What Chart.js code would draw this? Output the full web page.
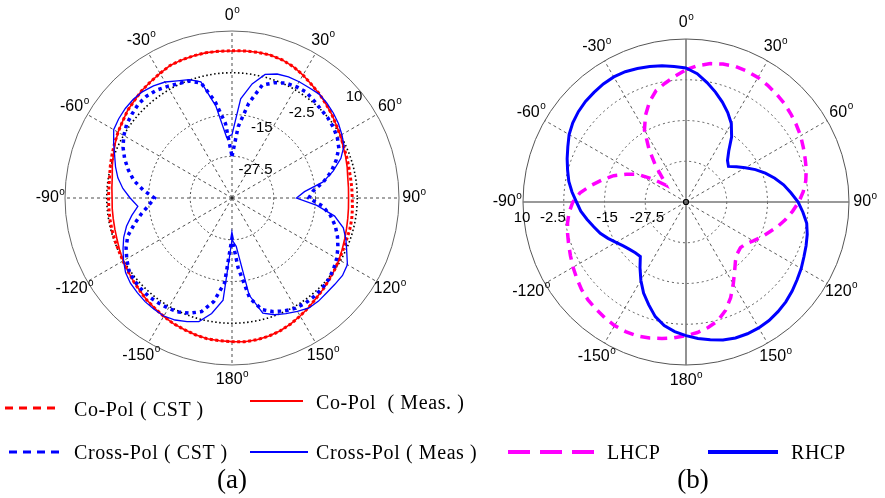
<!DOCTYPE html>
<html>
<head>
<meta charset="utf-8">
<script src="https://cdn.jsdelivr.net/npm/chart.js@4.4.1/dist/chart.umd.min.js"></script>
<style>
  html, body { margin: 0; padding: 0; background: #fff; }
  body { width: 885px; height: 498px; position: relative; overflow: hidden;
         font-family: "Liberation Serif", "Times New Roman", serif; color: #000; }
  canvas { position: absolute; }
  .lg { position: absolute; font-size: 20px; letter-spacing: 0.6px; line-height: 1; white-space: pre; transform: translateY(-50%); }
  .cap { position: absolute; font-size: 27px; line-height: 1; transform: translate(-50%, -50%); }
  #keys { position: absolute; left: 0; top: 0; }
</style>
</head>
<body>
<canvas id="chartA" width="440" height="395" style="left:0;top:0"></canvas>
<canvas id="chartB" width="399" height="395" style="left:486px;top:0"></canvas>

<svg id="keys" width="885" height="498">
  <line x1="5" y1="408" x2="57" y2="408" stroke="#ff0000" stroke-width="3" stroke-dasharray="8 6"/>
  <line x1="250" y1="401" x2="303" y2="401" stroke="#ff0000" stroke-width="2"/>
  <line x1="9" y1="452" x2="61" y2="452" stroke="#0000ff" stroke-width="3" stroke-dasharray="8 6"/>
  <line x1="250" y1="452" x2="308" y2="452" stroke="#0000ff" stroke-width="2"/>
  <line x1="508" y1="452" x2="594" y2="452" stroke="#ff00ff" stroke-width="4" stroke-dasharray="22 10"/>
  <line x1="708" y1="452" x2="778" y2="452" stroke="#0000ff" stroke-width="4"/>
</svg>
<div class="lg" style="left:74px;top:409px">Co-Pol ( CST )</div>
<div class="lg" style="left:316px;top:402px">Co-Pol  ( Meas. )</div>
<div class="lg" style="left:74px;top:452px">Cross-Pol ( CST )</div>
<div class="lg" style="left:316px;top:452px">Cross-Pol ( Meas )</div>
<div class="lg" style="left:607px;top:452px">LHCP</div>
<div class="lg" style="left:791px;top:452px">RHCP</div>
<div class="cap" style="left:232px;top:479px">(a)</div>
<div class="cap" style="left:693px;top:479px">(b)</div>

<script>
// ===== data (dB, one value every 5 degrees, clockwise from 0) =====
const angleCats = ['0','5','10','15','20','25','30','35','40','45','50','55','60','65','70','75','80','85',
  '90','95','100','105','110','115','120','125','130','135','140','145','150','155','160','165','170','175',
  '180','-175','-170','-165','-160','-155','-150','-145','-140','-135','-130','-125','-120','-115','-110','-105','-100','-95',
  '-90','-85','-80','-75','-70','-65','-60','-55','-50','-45','-40','-35','-30','-25','-20','-15','-10','-5'];

const degreeLabels = ['0','30','60','90','120','150','180','-150','-120','-90','-60','-30'];
const ringTicks = [-27.5, -15, -2.5, 10];

// (a) co-pol / cross-pol
const coPolCst = [4.1,4.2,4.3,4.3,4.0,3.4,2.5,1.5,0.7,-0.2,-1.0,-1.9,-2.5,-3.2,-3.5,-3.8,-4.0,-4.0,
  -4.0,-3.8,-3.6,-3.5,-3.5,-3.3,-3.0,-2.5,-2.0,-1.4,-0.8,0.0,0.8,1.6,2.3,2.8,3.1,3.2,
  3.0,2.9,2.8,2.4,1.9,1.5,0.9,0.3,-0.2,-0.9,-1.4,-1.9,-2.3,-2.6,-2.7,-2.8,-2.9,-3.0,
  -3.0,-3.0,-2.8,-2.3,-1.8,-1.2,-0.6,0.0,0.8,1.3,2.0,2.5,3.1,3.8,4.0,4.1,4.2,4.1];
const coPolMeas = [4.0,4.2,4.3,4.3,4.0,3.4,2.5,1.5,0.7,-0.2,-1.0,-1.9,-2.5,-3.3,-3.8,-4.3,-4.8,-5.0,
  -5.1,-5.0,-4.8,-4.5,-4.1,-3.6,-3.0,-2.5,-2.0,-1.4,-0.8,0.0,0.8,1.6,2.3,2.8,3.1,3.2,
  3.0,2.9,2.8,2.4,1.9,1.5,0.9,0.3,-0.2,-0.9,-1.4,-1.9,-2.4,-2.9,-3.4,-3.7,-3.9,-4.0,
  -4.1,-3.9,-3.6,-2.9,-2.2,-1.4,-0.6,0.0,0.8,1.3,2.0,2.5,3.1,3.8,4.0,4.1,4.2,4.1];
const crossPolCst = [-27.5,-18.5,-11.2,-5.0,-3.3,-2.0,-1.5,-1.3,-1.9,-2.4,-2.6,-3.0,-3.6,-4.7,-6.8,-9.2,-12.2,-15.6,
  -17.0,-12.8,-10.1,-8.0,-6.4,-5.0,-3.8,-2.9,-2.2,-1.8,-1.6,-1.6,-1.9,-2.7,-3.8,-5.4,-9.6,-19.0,
  -28.0,-14.5,-8.5,-4.8,-3.3,-2.3,-1.9,-1.6,-1.4,-1.5,-1.7,-2.3,-3.6,-5.0,-6.8,-9.7,-12.4,-15.0,
  -16.8,-13.4,-10.2,-7.9,-5.8,-4.0,-2.6,-1.5,-0.9,-0.3,-0.2,-0.6,-1.4,-2.2,-2.7,-4.4,-10.6,-17.6];
const crossPolMeas = [-21.0,-10.2,-5.3,-1.7,-0.5,0.0,0.2,0.3,0.6,0.2,-0.4,-1.1,-2.0,-3.0,-5.3,-8.6,-12.3,-18.2,
  -20.7,-14.5,-8.8,-5.5,-3.7,-2.1,-0.1,0.4,0.2,0.1,0.3,0.2,-0.8,-1.8,-2.8,-4.3,-10.5,-25.5,
  -27.5,-9.3,-4.9,-1.7,-0.6,0.3,0.8,0.7,0.5,0.1,-0.3,-1.1,-2.5,-4.0,-5.5,-7.3,-9.5,-11.7,
  -9.5,-7.2,-5.3,-3.9,-2.6,-0.9,0.9,1.4,1.7,1.8,1.6,1.0,0.1,-1.3,-2.3,-4.0,-12.0,-21.8];

// (b) circular polarisation
const lhcp = [0.6,2.0,3.1,3.8,4.3,4.3,4.1,3.7,3.2,2.7,2.0,1.3,0.6,-0.3,-1.1,-1.8,-2.7,-3.9,
  -5.4,-7.2,-9.0,-10.9,-12.9,-14.5,-16.2,-17.6,-18.2,-17.7,-16.4,-14.0,-11.0,-7.6,-4.6,-2.3,-0.9,0.2,
  1.0,1.8,2.5,3.2,3.7,3.85,3.8,3.4,2.9,2.5,1.8,0.9,0.0,-0.9,-1.7,-2.4,-3.1,-4.0,
  -5.3,-7.4,-10.5,-13.5,-16.4,-19.8,-23.0,-28.0,-32.0,-30.0,-25.5,-20.2,-14.5,-10.6,-7.3,-4.6,-3.0,-1.3];
const rhcp = [1.1,-0.5,-2.8,-5.1,-7.4,-9.7,-12.2,-15.6,-19.6,-22.0,-23.0,-21.1,-19.0,-16.5,-14.1,-11.8,-9.6,-7.7,
  -5.6,-4.0,-2.4,-1.5,-0.8,-0.1,0.8,1.6,2.5,3.3,3.9,4.4,4.6,4.6,4.4,3.8,2.9,2.0,
  1.0,-0.1,-1.5,-3.6,-6.5,-9.2,-12.3,-15.4,-18.2,-18.0,-17.4,-16.5,-15.2,-13.6,-12.0,-10.7,-9.2,-7.6,
  -6.4,-4.9,-3.5,-2.4,-1.2,0.0,1.4,2.4,3.1,3.6,3.9,4.2,4.3,4.1,3.6,3.0,2.4,1.7];

// ===== helpers =====
const SANS = '"Liberation Sans", Arial, sans-serif';

function posAt(scale, deg, dist) {
  const step = 360 / scale.chart.data.labels.length;
  return scale.getPointPosition(deg / step, dist);
}

function drawDeg(ctx, text, x, y) {
  ctx.font = '16px ' + SANS;
  const w1 = ctx.measureText(text).width;
  ctx.font = '10px ' + SANS;
  const w2 = ctx.measureText('o').width;
  const x0 = x - (w1 + w2) / 2;
  ctx.textAlign = 'left';
  ctx.textBaseline = 'middle';
  ctx.font = '16px ' + SANS;
  ctx.fillText(text, x0, y);
  ctx.font = '10px ' + SANS;
  ctx.fillText('o', x0 + w1 + 0.5, y - 6);
}

// draws angle labels, dB ring labels and the centre mark
const polarText = {
  id: 'polarText',
  afterDraw(chart, args, opts) {
    const s = chart.scales.r;
    const ctx = chart.ctx;
    ctx.save();
    ctx.fillStyle = '#000';
    degreeLabels.forEach((t, k) => {
      const p = posAt(s, k * 30, s.drawingArea + opts.labelGap);
      drawDeg(ctx, t, p.x, p.y);
    });
    ctx.font = '15px ' + SANS;
    ctx.textAlign = 'center';
    ctx.textBaseline = 'middle';
    ringTicks.forEach((v, k) => {
      const d = s.getDistanceFromCenterForValue(v) - opts.tickInsets[k];
      const p = posAt(s, opts.tickAngles[k], d);
      ctx.fillText(String(v), p.x, p.y + opts.tickDy);
    });
    if (opts.centerDot) {
      ctx.strokeStyle = '#000';
      ctx.lineWidth = 1.2;
      ctx.beginPath();
      ctx.arc(s.xCenter, s.yCenter, 2.5, 0, Math.PI * 2);
      ctx.stroke();
    }
    ctx.restore();
  }
};

function lineSet(label, data, color, width, dash) {
  return {
    label, data,
    borderColor: color,
    borderWidth: width,
    borderDash: dash,
    pointRadius: 0,
    fill: false,
    tension: 0
  };
}

function radialScale(ringStyle, spokeStyle) {
  return {
    min: -40,
    max: 10,
    ticks: { stepSize: 12.5, display: false },
    pointLabels: { display: false },
    grid: {
      circular: true,
      color: ctx => ringStyle(ctx.index).color,
      lineWidth: ctx => ringStyle(ctx.index).width
    },
    border: { dash: ctx => ringStyle(ctx.index).dash },
    angleLines: {
      color: ctx => spokeStyle(ctx.index).color,
      lineWidth: ctx => spokeStyle(ctx.index).width,
      borderDash: ctx => spokeStyle(ctx.index).dash
    }
  };
}

// ===== chart (a) =====
new Chart(document.getElementById('chartA'), {
  type: 'radar',
  data: {
    labels: angleCats,
    datasets: [
      lineSet('Cross-Pol ( Meas )', crossPolMeas, '#0000ff', 1.3, []),
      lineSet('Cross-Pol ( CST )', crossPolCst, '#0000ff', 3.5, [3.5, 4]),
      lineSet('Co-Pol ( Meas. )', coPolMeas, '#ff0000', 1.6, []),
      lineSet('Co-Pol ( CST )', coPolCst, '#ff0000', 3, [3, 2.5])
    ]
  },
  options: {
    responsive: false,
    animation: false,
    layout: { padding: { left: 65, top: 31, right: 41, bottom: 30 } },
    plugins: {
      legend: { display: false },
      tooltip: { enabled: false },
      polarText: {
        labelGap: 15,
        tickAngles: [40, 23.1, 39.3, 50.3],
        tickInsets: [5.2, 7.7, 15.2, 8.4],
        tickDy: 0,
        centerDot: false
      }
    },
    scales: {
      r: radialScale(
        i => i === 4 ? { color: '#666', width: 1, dash: [] }
          : i === 3 ? { color: '#000', width: 1.6, dash: [1.5, 2.5] }
          : i === 0 ? { color: 'rgba(0,0,0,0)', width: 0, dash: [] }
          : { color: '#222', width: 0.8, dash: [2, 2.5] },
        i => i % 6 === 0 ? { color: '#222', width: 0.8, dash: [3, 3] }
          : { color: 'rgba(0,0,0,0)', width: 0, dash: [] }
      )
    }
  },
  plugins: [polarText]
});

// ===== chart (b) =====
new Chart(document.getElementById('chartB'), {
  type: 'radar',
  data: {
    labels: angleCats,
    datasets: [
      lineSet('RHCP', rhcp, '#0000ff', 3, []),
      lineSet('LHCP', lhcp, '#ff00ff', 3.5, [10, 7])
    ]
  },
  options: {
    responsive: false,
    animation: false,
    layout: { padding: { left: 37, top: 39, right: 36, bottom: 30 } },
    plugins: {
      legend: { display: false },
      tooltip: { enabled: false },
      polarText: {
        labelGap: 16,
        tickAngles: [-90, -90, -90, -90],
        tickInsets: [1.7, 2.5, -10.8, -1],
        tickDy: 16,
        centerDot: true
      }
    },
    scales: {
      r: radialScale(
        i => i === 4 ? { color: '#555', width: 1, dash: [] }
          : i === 0 ? { color: 'rgba(0,0,0,0)', width: 0, dash: [] }
          : { color: '#333', width: 0.8, dash: [2, 3] },
        i => i % 18 === 0 ? { color: '#777', width: 1.6, dash: [] }
          : i % 6 === 0 ? { color: '#333', width: 0.8, dash: [3, 3] }
          : { color: 'rgba(0,0,0,0)', width: 0, dash: [] }
      )
    }
  },
  plugins: [polarText]
});
</script>
</body>
</html>
